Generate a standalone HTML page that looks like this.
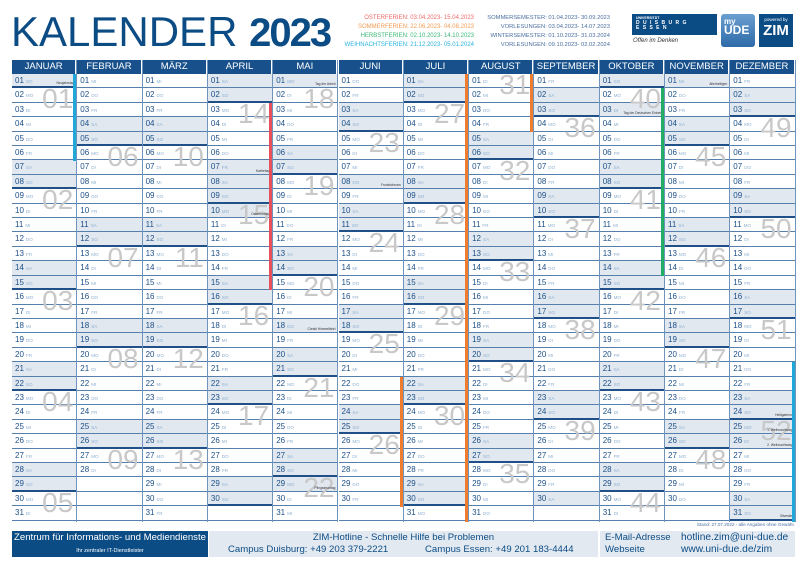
<!DOCTYPE html>
<html><head><meta charset="utf-8"><style>
*{margin:0;padding:0;box-sizing:border-box}
body{width:805px;height:569px;background:#fff;position:relative;overflow:hidden;font-family:"Liberation Sans",sans-serif;color:#1a4f85}
.t{position:absolute;left:11px;top:10px;font-size:42px;line-height:44px;color:#0b4c85;white-space:nowrap}
.t b{letter-spacing:-2px;font-size:40px}
.lg{position:absolute;top:14px;font-size:6px;line-height:9px;text-align:right;white-space:nowrap}
.col{position:absolute;top:60px;width:65.3px;height:462px;border-right:1px solid #6f94bb}
.h{height:14px;background:#17508a;color:#fff;font-size:9.5px;line-height:14px;text-align:center;border-right:1px solid #fff}
.col p{position:relative;height:14.42px;border-bottom:1px solid #5580ad;padding-left:3px;font-size:8px;line-height:13px;color:#1d5088}
.col p.s{background:#e1e8f0}
.col p.k{border-bottom:2px solid #1f5188}
p i{font-style:normal;font-size:4.6px;color:#8fb0d0;margin-left:2px}
p u{position:absolute;right:3px;top:-3px;font-size:28px;line-height:28px;color:#c8c8c8;text-decoration:none;z-index:1}
p em{position:absolute;right:2px;bottom:1px;font-size:3.3px;line-height:4px;font-style:normal;color:#333;z-index:2}
.bar{position:absolute;right:0;width:3px;z-index:3}
.f{position:absolute;top:531px;height:26px;font-size:9.6px;line-height:12px}
</style></head><body>
<div class="t">KALENDER <b>2023</b></div>
<div class="lg" style="right:331px"><span style="color:#ef6b6b">OSTERFERIEN: 03.04.2023- 15.04.2023</span><br><span style="color:#f39a52">SOMMERFERIEN: 22.06.2023- 04.08.2023</span><br><span style="color:#3cb878">HERBSTFERIEN: 02.10.2023- 14.10.2023</span><br><span style="color:#2ab4e0">WEIHNACHTSFERIEN: 21.12.2023- 05.01.2024</span></div>
<div class="lg" style="right:195px;color:#4a6fa0;font-size:5.8px">SOMMERSEMESTER: 01.04.2023- 30.09.2023<br>VORLESUNGEN: 03.04.2023- 14.07.2023<br>WINTERSEMESTER: 01.10.2023- 31.03.2024<br>VORLESUNGEN: 09.10.2023- 02.02.2024</div>
<div style="position:absolute;left:632px;top:14px;width:85px;height:21px;background:#0b4c85;color:#fff;font-size:3.5px;line-height:5px;padding:2px 4px;font-weight:bold">UNIVERSITÄT<br><span style="font-size:5px;letter-spacing:1px">D U I S B U R G<br>E S S E N</span></div>
<div style="position:absolute;left:633px;top:38px;font-size:6px;color:#333;font-style:italic">Offen im Denken</div>
<div style="position:absolute;left:721px;top:14px;width:34px;height:33px;background:linear-gradient(#6a9fd0,#2d6aa8);border-radius:3px;color:#fff;font-size:8px;line-height:9px;padding:3px;font-weight:bold">my<br><span style="font-size:12px">UDE</span></div>
<div style="position:absolute;left:759px;top:14px;width:34px;height:33px;background:#0b4c85;color:#fff;font-size:4.5px;text-align:center;padding-top:3px">powered by<br><b style="font-size:15px;line-height:18px">ZIM</b></div>

<div class="col" style="left:12px"><div class="h">JANUAR</div>
<p class="s k">01<i>SO</i><em>Neujahrstag</em></p><p>02<i>MO</i><u>01</u></p><p>03<i>DI</i></p><p>04<i>MI</i></p><p>05<i>DO</i></p><p>06<i>FR</i></p><p class="s">07<i>SA</i></p><p class="s k">08<i>SO</i></p><p>09<i>MO</i><u>02</u></p><p>10<i>DI</i></p><p>11<i>MI</i></p><p>12<i>DO</i></p><p>13<i>FR</i></p><p class="s">14<i>SA</i></p><p class="s k">15<i>SO</i></p><p>16<i>MO</i><u>03</u></p><p>17<i>DI</i></p><p>18<i>MI</i></p><p>19<i>DO</i></p><p>20<i>FR</i></p><p class="s">21<i>SA</i></p><p class="s k">22<i>SO</i></p><p>23<i>MO</i><u>04</u></p><p>24<i>DI</i></p><p>25<i>MI</i></p><p>26<i>DO</i></p><p>27<i>FR</i></p><p class="s">28<i>SA</i></p><p class="s k">29<i>SO</i></p><p>30<i>MO</i><u>05</u></p><p>31<i>DI</i></p>
<div class="bar" style="top:14px;height:86.5px;background:#1fa8d8"></div></div>

<div class="col" style="left:77.3px"><div class="h">FEBRUAR</div>
<p>01<i>MI</i></p><p>02<i>DO</i></p><p>03<i>FR</i></p><p class="s">04<i>SA</i></p><p class="s k">05<i>SO</i></p><p>06<i>MO</i><u>06</u></p><p>07<i>DI</i></p><p>08<i>MI</i></p><p>09<i>DO</i></p><p>10<i>FR</i></p><p class="s">11<i>SA</i></p><p class="s k">12<i>SO</i></p><p>13<i>MO</i><u>07</u></p><p>14<i>DI</i></p><p>15<i>MI</i></p><p>16<i>DO</i></p><p>17<i>FR</i></p><p class="s">18<i>SA</i></p><p class="s k">19<i>SO</i></p><p>20<i>MO</i><u>08</u></p><p>21<i>DI</i></p><p>22<i>MI</i></p><p>23<i>DO</i></p><p>24<i>FR</i></p><p class="s">25<i>SA</i></p><p class="s k">26<i>SO</i></p><p>27<i>MO</i><u>09</u></p><p>28<i>DI</i></p><p></p><p></p><p></p></div>

<div class="col" style="left:142.6px"><div class="h">MÄRZ</div>
<p>01<i>MI</i></p><p>02<i>DO</i></p><p>03<i>FR</i></p><p class="s">04<i>SA</i></p><p class="s k">05<i>SO</i></p><p>06<i>MO</i><u>10</u></p><p>07<i>DI</i></p><p>08<i>MI</i></p><p>09<i>DO</i></p><p>10<i>FR</i></p><p class="s">11<i>SA</i></p><p class="s k">12<i>SO</i></p><p>13<i>MO</i><u>11</u></p><p>14<i>DI</i></p><p>15<i>MI</i></p><p>16<i>DO</i></p><p>17<i>FR</i></p><p class="s">18<i>SA</i></p><p class="s k">19<i>SO</i></p><p>20<i>MO</i><u>12</u></p><p>21<i>DI</i></p><p>22<i>MI</i></p><p>23<i>DO</i></p><p>24<i>FR</i></p><p class="s">25<i>SA</i></p><p class="s k">26<i>SO</i></p><p>27<i>MO</i><u>13</u></p><p>28<i>DI</i></p><p>29<i>MI</i></p><p>30<i>DO</i></p><p>31<i>FR</i></p></div>

<div class="col" style="left:207.9px"><div class="h">APRIL</div>
<p class="s">01<i>SA</i></p><p class="s k">02<i>SO</i></p><p>03<i>MO</i><u>14</u></p><p>04<i>DI</i></p><p>05<i>MI</i></p><p>06<i>DO</i></p><p class="s">07<i>FR</i><em>Karfreitag</em></p><p class="s">08<i>SA</i></p><p class="s k">09<i>SO</i></p><p class="s">10<i>MO</i><u>15</u><em>Ostermontag</em></p><p>11<i>DI</i></p><p>12<i>MI</i></p><p>13<i>DO</i></p><p>14<i>FR</i></p><p class="s">15<i>SA</i></p><p class="s k">16<i>SO</i></p><p>17<i>MO</i><u>16</u></p><p>18<i>DI</i></p><p>19<i>MI</i></p><p>20<i>DO</i></p><p>21<i>FR</i></p><p class="s">22<i>SA</i></p><p class="s k">23<i>SO</i></p><p>24<i>MO</i><u>17</u></p><p>25<i>DI</i></p><p>26<i>MI</i></p><p>27<i>DO</i></p><p>28<i>FR</i></p><p class="s">29<i>SA</i></p><p class="s k">30<i>SO</i></p><p></p>
<div class="bar" style="top:42.8px;height:187.5px;background:#e8505b"></div></div>

<div class="col" style="left:273.2px"><div class="h">MAI</div>
<p class="s">01<i>MO</i><em>Tag der Arbeit</em></p><p>02<i>DI</i><u>18</u></p><p>03<i>MI</i></p><p>04<i>DO</i></p><p>05<i>FR</i></p><p class="s">06<i>SA</i></p><p class="s k">07<i>SO</i></p><p>08<i>MO</i><u>19</u></p><p>09<i>DI</i></p><p>10<i>MI</i></p><p>11<i>DO</i></p><p>12<i>FR</i></p><p class="s">13<i>SA</i></p><p class="s k">14<i>SO</i></p><p>15<i>MO</i><u>20</u></p><p>16<i>DI</i></p><p>17<i>MI</i></p><p class="s">18<i>DO</i><em>Christi Himmelfahrt</em></p><p>19<i>FR</i></p><p class="s">20<i>SA</i></p><p class="s k">21<i>SO</i></p><p>22<i>MO</i><u>21</u></p><p>23<i>DI</i></p><p>24<i>MI</i></p><p>25<i>DO</i></p><p>26<i>FR</i></p><p class="s">27<i>SA</i></p><p class="s k">28<i>SO</i></p><p class="s">29<i>MO</i><u>22</u><em>Pfingstmontag</em></p><p>30<i>DI</i></p><p>31<i>MI</i></p></div>

<div class="col" style="left:338.5px"><div class="h">JUNI</div>
<p>01<i>DO</i></p><p>02<i>FR</i></p><p class="s">03<i>SA</i></p><p class="s k">04<i>SO</i></p><p>05<i>MO</i><u>23</u></p><p>06<i>DI</i></p><p>07<i>MI</i></p><p class="s">08<i>DO</i><em>Fronleichnam</em></p><p>09<i>FR</i></p><p class="s">10<i>SA</i></p><p class="s k">11<i>SO</i></p><p>12<i>MO</i><u>24</u></p><p>13<i>DI</i></p><p>14<i>MI</i></p><p>15<i>DO</i></p><p>16<i>FR</i></p><p class="s">17<i>SA</i></p><p class="s k">18<i>SO</i></p><p>19<i>MO</i><u>25</u></p><p>20<i>DI</i></p><p>21<i>MI</i></p><p>22<i>DO</i></p><p>23<i>FR</i></p><p class="s">24<i>SA</i></p><p class="s k">25<i>SO</i></p><p>26<i>MO</i><u>26</u></p><p>27<i>DI</i></p><p>28<i>MI</i></p><p>29<i>DO</i></p><p>30<i>FR</i></p><p></p>
<div class="bar" style="top:316.8px;height:129.8px;background:#ef7d2d"></div></div>

<div class="col" style="left:403.8px"><div class="h">JULI</div>
<p class="s">01<i>SA</i></p><p class="s k">02<i>SO</i></p><p>03<i>MO</i><u>27</u></p><p>04<i>DI</i></p><p>05<i>MI</i></p><p>06<i>DO</i></p><p>07<i>FR</i></p><p class="s">08<i>SA</i></p><p class="s k">09<i>SO</i></p><p>10<i>MO</i><u>28</u></p><p>11<i>DI</i></p><p>12<i>MI</i></p><p>13<i>DO</i></p><p>14<i>FR</i></p><p class="s">15<i>SA</i></p><p class="s k">16<i>SO</i></p><p>17<i>MO</i><u>29</u></p><p>18<i>DI</i></p><p>19<i>MI</i></p><p>20<i>DO</i></p><p>21<i>FR</i></p><p class="s">22<i>SA</i></p><p class="s k">23<i>SO</i></p><p>24<i>MO</i><u>30</u></p><p>25<i>DI</i></p><p>26<i>MI</i></p><p>27<i>DO</i></p><p>28<i>FR</i></p><p class="s">29<i>SA</i></p><p class="s k">30<i>SO</i></p><p>31<i>MO</i></p>
<div class="bar" style="top:14px;height:448px;background:#ef7d2d"></div></div>

<div class="col" style="left:469.1px"><div class="h">AUGUST</div>
<p>01<i>DI</i><u>31</u></p><p>02<i>MI</i></p><p>03<i>DO</i></p><p>04<i>FR</i></p><p class="s">05<i>SA</i></p><p class="s k">06<i>SO</i></p><p>07<i>MO</i><u>32</u></p><p>08<i>DI</i></p><p>09<i>MI</i></p><p>10<i>DO</i></p><p>11<i>FR</i></p><p class="s">12<i>SA</i></p><p class="s k">13<i>SO</i></p><p>14<i>MO</i><u>33</u></p><p>15<i>DI</i></p><p>16<i>MI</i></p><p>17<i>DO</i></p><p>18<i>FR</i></p><p class="s">19<i>SA</i></p><p class="s k">20<i>SO</i></p><p>21<i>MO</i><u>34</u></p><p>22<i>DI</i></p><p>23<i>MI</i></p><p>24<i>DO</i></p><p>25<i>FR</i></p><p class="s">26<i>SA</i></p><p class="s k">27<i>SO</i></p><p>28<i>MO</i><u>35</u></p><p>29<i>DI</i></p><p>30<i>MI</i></p><p>31<i>DO</i></p>
<div class="bar" style="top:14px;height:57.7px;background:#ef7d2d"></div></div>

<div class="col" style="left:534.4px"><div class="h">SEPTEMBER</div>
<p>01<i>FR</i></p><p class="s">02<i>SA</i></p><p class="s k">03<i>SO</i></p><p>04<i>MO</i><u>36</u></p><p>05<i>DI</i></p><p>06<i>MI</i></p><p>07<i>DO</i></p><p>08<i>FR</i></p><p class="s">09<i>SA</i></p><p class="s k">10<i>SO</i></p><p>11<i>MO</i><u>37</u></p><p>12<i>DI</i></p><p>13<i>MI</i></p><p>14<i>DO</i></p><p>15<i>FR</i></p><p class="s">16<i>SA</i></p><p class="s k">17<i>SO</i></p><p>18<i>MO</i><u>38</u></p><p>19<i>DI</i></p><p>20<i>MI</i></p><p>21<i>DO</i></p><p>22<i>FR</i></p><p class="s">23<i>SA</i></p><p class="s k">24<i>SO</i></p><p>25<i>MO</i><u>39</u></p><p>26<i>DI</i></p><p>27<i>MI</i></p><p>28<i>DO</i></p><p>29<i>FR</i></p><p class="s">30<i>SA</i></p><p></p></div>

<div class="col" style="left:599.7px"><div class="h">OKTOBER</div>
<p class="s k">01<i>SO</i></p><p>02<i>MO</i><u>40</u></p><p class="s">03<i>DI</i><em>Tag der Deutschen Einheit</em></p><p>04<i>MI</i></p><p>05<i>DO</i></p><p>06<i>FR</i></p><p class="s">07<i>SA</i></p><p class="s k">08<i>SO</i></p><p>09<i>MO</i><u>41</u></p><p>10<i>DI</i></p><p>11<i>MI</i></p><p>12<i>DO</i></p><p>13<i>FR</i></p><p class="s">14<i>SA</i></p><p class="s k">15<i>SO</i></p><p>16<i>MO</i><u>42</u></p><p>17<i>DI</i></p><p>18<i>MI</i></p><p>19<i>DO</i></p><p>20<i>FR</i></p><p class="s">21<i>SA</i></p><p class="s k">22<i>SO</i></p><p>23<i>MO</i><u>43</u></p><p>24<i>DI</i></p><p>25<i>MI</i></p><p>26<i>DO</i></p><p>27<i>FR</i></p><p class="s">28<i>SA</i></p><p class="s k">29<i>SO</i></p><p>30<i>MO</i><u>44</u></p><p>31<i>DI</i></p>
<div class="bar" style="top:28.4px;height:187.5px;background:#1fae62"></div></div>

<div class="col" style="left:665px"><div class="h">NOVEMBER</div>
<p class="s">01<i>MI</i><em>Allerheiligen</em></p><p>02<i>DO</i></p><p>03<i>FR</i></p><p class="s">04<i>SA</i></p><p class="s k">05<i>SO</i></p><p>06<i>MO</i><u>45</u></p><p>07<i>DI</i></p><p>08<i>MI</i></p><p>09<i>DO</i></p><p>10<i>FR</i></p><p class="s">11<i>SA</i></p><p class="s k">12<i>SO</i></p><p>13<i>MO</i><u>46</u></p><p>14<i>DI</i></p><p>15<i>MI</i></p><p>16<i>DO</i></p><p>17<i>FR</i></p><p class="s">18<i>SA</i></p><p class="s k">19<i>SO</i></p><p>20<i>MO</i><u>47</u></p><p>21<i>DI</i></p><p>22<i>MI</i></p><p>23<i>DO</i></p><p>24<i>FR</i></p><p class="s">25<i>SA</i></p><p class="s k">26<i>SO</i></p><p>27<i>MO</i><u>48</u></p><p>28<i>DI</i></p><p>29<i>MI</i></p><p>30<i>DO</i></p><p></p></div>

<div class="col" style="left:730.3px"><div class="h">DEZEMBER</div>
<p>01<i>FR</i></p><p class="s">02<i>SA</i></p><p class="s k">03<i>SO</i></p><p>04<i>MO</i><u>49</u></p><p>05<i>DI</i></p><p>06<i>MI</i></p><p>07<i>DO</i></p><p>08<i>FR</i></p><p class="s">09<i>SA</i></p><p class="s k">10<i>SO</i></p><p>11<i>MO</i><u>50</u></p><p>12<i>DI</i></p><p>13<i>MI</i></p><p>14<i>DO</i></p><p>15<i>FR</i></p><p class="s">16<i>SA</i></p><p class="s k">17<i>SO</i></p><p>18<i>MO</i><u>51</u></p><p>19<i>DI</i></p><p>20<i>MI</i></p><p>21<i>DO</i></p><p>22<i>FR</i></p><p class="s">23<i>SA</i></p><p class="s k">24<i>SO</i><em>Heiligabend</em></p><p class="s">25<i>MO</i><u>52</u><em>1. Weihnachtstag</em></p><p class="s">26<i>DI</i><em>2. Weihnachtstag</em></p><p>27<i>MI</i></p><p>28<i>DO</i></p><p>29<i>FR</i></p><p class="s">30<i>SA</i></p><p class="s k">31<i>SO</i><em>Silvester</em></p>
<div class="bar" style="top:302.4px;height:159.6px;background:#1fa8d8"></div></div>

<div style="position:absolute;right:10px;top:522px;font-size:4.6px;color:#4a6fa0">Stand: 27.07.2022 - alle Angaben ohne Gewähr.</div>
<div class="f" style="left:12px;width:196px;background:#0b4c85;color:#fff;text-align:center;padding-top:1px;white-space:nowrap">Zentrum für Informations- und Mediendienste<br><span style="font-size:5.5px;line-height:10px">Ihr zentraler IT-Dienstleister</span></div>
<div class="f" style="left:209px;width:389px;background:#e3e9f0;color:#0b4c85;padding-top:1px;white-space:nowrap"><div style="text-align:center">ZIM-Hotline - Schnelle Hilfe bei Problemen</div><div style="padding-left:19px">Campus Duisburg: +49 203 379-2221<span style="position:absolute;left:216px">Campus Essen: +49 201 183-4444</span></div></div>
<div class="f" style="left:600px;width:195px;background:#e3e9f0;color:#0b4c85;padding:1px 0 0 5px;white-space:nowrap">E-Mail-Adresse<span style="position:absolute;left:81px;font-size:10.2px">hotline.zim@uni-due.de</span><br>Webseite<span style="position:absolute;left:81px;font-size:10.2px">www.uni-due.de/zim</span></div>
</body></html>
